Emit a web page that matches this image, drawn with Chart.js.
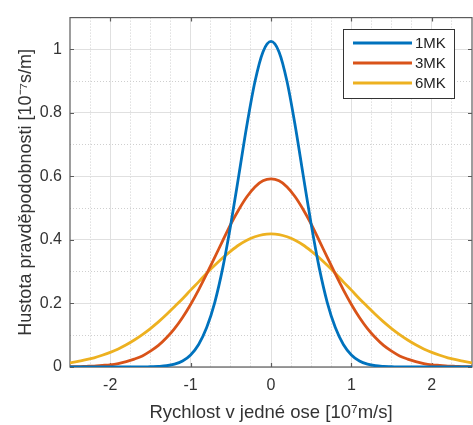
<!DOCTYPE html>
<html>
<head>
<meta charset="utf-8">
<script src="https://cdn.jsdelivr.net/npm/chart.js@4"></script>
<style>
  html, body { margin: 0; padding: 0; background: #fff; }
  #wrap { width: 473px; height: 425px; }
</style>
</head>
<body>
<div id="wrap"><canvas id="maxwell"></canvas></div>
<script>
// velocity along one axis [1e7 m/s]
const speeds = [
  -2.5, -2.4, -2.3, -2.2, -2.1, -2.0, -1.9, -1.8, -1.7, -1.6,
  -1.5, -1.4, -1.3, -1.2, -1.1, -1.0, -0.9, -0.8, -0.7, -0.6,
  -0.5, -0.4, -0.3, -0.2, -0.1, 0.0, 0.1, 0.2, 0.3, 0.4,
  0.5, 0.6, 0.7, 0.8, 0.9, 1.0, 1.1, 1.2, 1.3, 1.4,
  1.5, 1.6, 1.7, 1.8, 1.9, 2.0, 2.1, 2.2, 2.3, 2.4, 2.5
];

// probability density [1e-7 s/m]
const dens1MK = [
  0, 0, 0, 0, 0, 0, 0, 0, 0, 0,
  0.001, 0.002, 0.004, 0.009, 0.019, 0.038, 0.071, 0.124, 0.203, 0.312,
  0.449, 0.604, 0.761, 0.898, 0.992, 1.025, 0.992, 0.898, 0.761, 0.604,
  0.449, 0.312, 0.203, 0.124, 0.071, 0.038, 0.019, 0.009, 0.004, 0.002,
  0.001, 0, 0, 0, 0, 0, 0, 0, 0, 0, 0
];
const dens3MK = [
  0.001, 0.001, 0.002, 0.003, 0.005, 0.007, 0.011, 0.017, 0.025, 0.035,
  0.050, 0.068, 0.092, 0.121, 0.156, 0.197, 0.243, 0.293, 0.345, 0.398,
  0.450, 0.496, 0.536, 0.567, 0.586, 0.592, 0.586, 0.567, 0.536, 0.496,
  0.450, 0.398, 0.345, 0.293, 0.243, 0.197, 0.156, 0.121, 0.092, 0.068,
  0.050, 0.035, 0.025, 0.017, 0.011, 0.007, 0.005, 0.003, 0.002, 0.001, 0.001
];
const dens6MK = [
  0.013, 0.018, 0.023, 0.029, 0.037, 0.046, 0.057, 0.070, 0.085, 0.102,
  0.121, 0.142, 0.165, 0.190, 0.215, 0.242, 0.268, 0.295, 0.320, 0.344,
  0.365, 0.384, 0.399, 0.410, 0.417, 0.419, 0.417, 0.410, 0.399, 0.384,
  0.365, 0.344, 0.320, 0.295, 0.268, 0.242, 0.215, 0.190, 0.165, 0.142,
  0.121, 0.102, 0.085, 0.070, 0.057, 0.046, 0.037, 0.029, 0.023, 0.018, 0.013
];

const seriesNames = ['1MK', '3MK', '6MK'];
const xTicks = [-2, -1, 0, 1, 2];
const yTicks = [0, 0.2, 0.4, 0.6, 0.8, 1];
const xMinor = [-2.25, -1.75, -1.5, -1.25, -0.75, -0.5, -0.25, 0.25, 0.5, 0.75, 1.25, 1.5, 1.75, 2.25];
const yMinor = [0.1, 0.3, 0.5, 0.7, 0.9];

const colors = ['#0072BD', '#D95319', '#EDB120'];
const textCol = '#333333';
const axisCol = '#5c5c5c';
const FONT = "'Liberation Sans', Arial, sans-serif";

const pts = (ys) => speeds.map((x, i) => ({ x, y: ys[i] }));

// MATLAB-like box with inward ticks, plus a boxed legend in the upper right
const axesBox = {
  id: 'axesBox',
  beforeDatasetsDraw(chart) {
    const { ctx, chartArea: a, scales } = chart;
    const tl = 4;
    ctx.save();
    ctx.strokeStyle = axisCol;
    ctx.lineWidth = 1.2;
    ctx.strokeRect(a.left, a.top, a.right - a.left, a.bottom - a.top);
    ctx.beginPath();
    xTicks.forEach(v => {
      const px = Math.round(scales.x.getPixelForValue(v)) + 0.5;
      ctx.moveTo(px, a.bottom); ctx.lineTo(px, a.bottom - tl);
      ctx.moveTo(px, a.top); ctx.lineTo(px, a.top + tl);
    });
    yTicks.forEach(v => {
      const py = Math.round(scales.y.getPixelForValue(v)) + 0.5;
      ctx.moveTo(a.left, py); ctx.lineTo(a.left + tl, py);
      ctx.moveTo(a.right, py); ctx.lineTo(a.right - tl, py);
    });
    ctx.stroke();
    ctx.restore();
  },
  afterDraw(chart) {
    const { ctx } = chart;
    const bx = 343, by = 29, bw = 111, bh = 69;
    ctx.save();
    ctx.fillStyle = '#fff';
    ctx.fillRect(bx, by, bw, bh);
    ctx.strokeStyle = '#333';
    ctx.lineWidth = 1;
    ctx.strokeRect(bx + 0.5, by + 0.5, bw, bh);
    ctx.font = '15px ' + FONT;
    ctx.textBaseline = 'middle';
    ctx.textAlign = 'left';
    chart.data.datasets.forEach((ds, i) => {
      const y = by + 14 + i * 20;
      ctx.strokeStyle = ds.borderColor;
      ctx.lineWidth = 3;
      ctx.beginPath();
      ctx.moveTo(bx + 10, y); ctx.lineTo(bx + 69, y);
      ctx.stroke();
      ctx.fillStyle = '#222';
      ctx.fillText(ds.label, bx + 72, y + 1);
    });
    ctx.restore();
  }
};

const minorGrid = {
  color: '#cfcfcf',
  lineWidth: 1,
  drawTicks: false
};

new Chart(document.getElementById('maxwell'), {
  type: 'line',
  data: {
    datasets: [dens1MK, dens3MK, dens6MK].map((ys, i) => ({
      label: seriesNames[i],
      data: pts(ys),
      borderColor: colors[i],
      backgroundColor: colors[i],
      borderWidth: 2.8,
      pointRadius: 0,
      cubicInterpolationMode: 'monotone',
      fill: false
    }))
  },
  options: {
    responsive: true,
    maintainAspectRatio: false,
    animation: false,
    layout: { padding: { left: 0, right: 1, top: 13, bottom: 0 } },
    plugins: { legend: { display: false }, tooltip: { enabled: false } },
    scales: {
      xm: {
        type: 'linear', position: 'bottom', min: -2.5, max: 2.5,
        afterBuildTicks: s => { s.ticks = xMinor.map(v => ({ value: v })); },
        afterFit: s => { s.height = 0; },
        ticks: { display: false },
        grid: minorGrid,
        border: { display: false, dash: [1, 2] }
      },
      ym: {
        type: 'linear', position: 'left', min: 0, max: 1.1,
        afterBuildTicks: s => { s.ticks = yMinor.map(v => ({ value: v })); },
        afterFit: s => { s.width = 0; },
        ticks: { display: false },
        grid: minorGrid,
        border: { display: false, dash: [1, 2] }
      },
      x: {
        type: 'linear', position: 'bottom', min: -2.5, max: 2.5,
        afterBuildTicks: s => { s.ticks = xTicks.map(v => ({ value: v })); },
        afterFit: s => { s.height = 58; },
        ticks: { color: textCol, font: { family: FONT, size: 16 }, padding: 9, callback: v => String(v) },
        grid: { color: '#e0e0e0', drawTicks: false },
        border: { display: false },
        title: {
          display: true,
          text: 'Rychlost v jedné ose [10⁷m/s]',
          color: textCol,
          font: { family: FONT, size: 18.5 },
          padding: { top: 0, bottom: 1 }
        }
      },
      y: {
        type: 'linear', position: 'left', min: 0, max: 1.1,
        afterBuildTicks: s => { s.ticks = yTicks.map(v => ({ value: v })); },
        afterFit: s => { s.width = 70; },
        ticks: { color: textCol, font: { family: FONT, size: 16 }, padding: 8, callback: v => String(v) },
        grid: { color: '#e0e0e0', drawTicks: false },
        border: { display: false },
        title: {
          display: true,
          text: 'Hustota pravděpodobnosti [10⁻⁷s/m]',
          color: textCol,
          font: { family: FONT, size: 18 },
          padding: { top: 15, bottom: 0 }
        }
      }
    }
  },
  plugins: [axesBox]
});
</script>
</body>
</html>
